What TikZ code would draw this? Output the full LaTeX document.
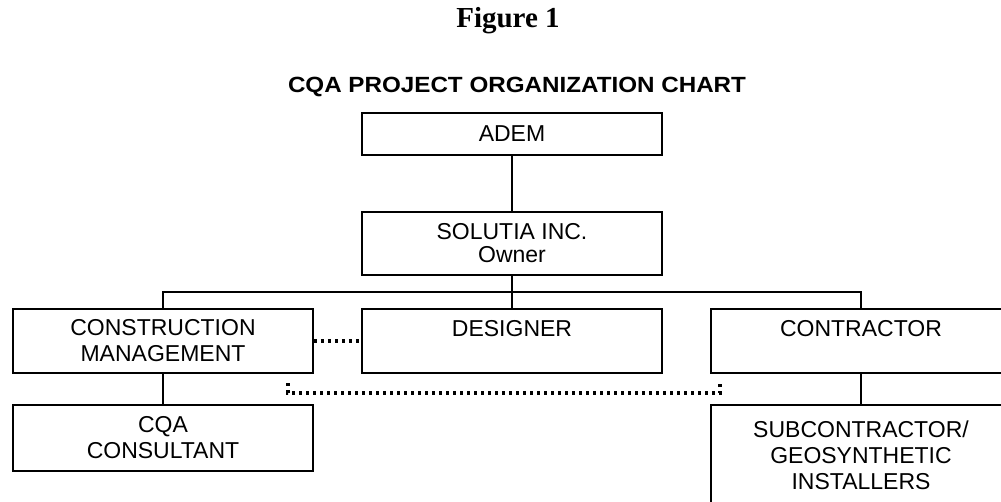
\documentclass[tikz,border=0pt]{standalone}
\usepackage{fontspec}
\setmainfont{Liberation Sans}
\newfontfamily\figserif{Liberation Serif}
\newcommand\boxfont{\fontsize{23}{26}\selectfont}
\tikzset{
  box/.style={draw, line width=1.5pt, minimum width=300pt, minimum height=64pt,
              inner sep=0pt, align=center, font=\boxfont},
  conn/.style={line width=1.5pt},
  dots/.style={line width=3.2pt, dash pattern=on 3pt off 4pt},
}
\begin{document}
\begin{tikzpicture}[x=1pt,y=-1pt]
\clip (0,0) rectangle (1001,502);
\fill[white] (0,0) rectangle (1001,502);
\node[anchor=base, inner sep=0pt, font=\figserif\bfseries\fontsize{29}{30}\selectfont] (fig) at (508,28) {Figure 1};
\node[anchor=base, inner sep=0pt, font=\bfseries\fontsize{22}{24}\selectfont] (title) at (517,93) {\scalebox{1.1}[1]{CQA PROJECT ORGANIZATION CHART}};
\node[box, minimum height=42pt] (adem) at (512,134) {ADEM};
\node[box, minimum height=63pt, font=\fontsize{23}{23}\selectfont] (sol) at (512,243.5) {SOLUTIA INC.\\Owner};
\node[box] (cm) at (163,341) {CONSTRUCTION\\MANAGEMENT};
\node[box] (des) at (512,341) {DESIGNER\\\mbox{}};
\node[box] (con) at (861,341) {CONTRACTOR\\\mbox{}};
\node[box, minimum height=66pt] (cqa) at (163,438) {CQA\\CONSULTANT};
\node[box, minimum height=100pt] (sub) at (861,455) {SUBCONTRACTOR/\\GEOSYNTHETIC\\INSTALLERS};
\coordinate (bus) at (512,292);
\coordinate (dl) at (288,383);
\coordinate (dr) at (720,383);
\draw[conn] (adem.south) -- (sol.north);
\draw[conn] (sol.south) -- (des.north);
\draw[conn] (cm.north) |- (bus) -| (con.north);
\draw[conn] (cm.south) -- (cqa.north);
\draw[conn] (con.south) -- (sub.north);
\draw[dots] (cm.east) -- (des.west);
\draw[dots] (dl) -- ++(0,10) -| (dr);
\end{tikzpicture}
\end{document}
